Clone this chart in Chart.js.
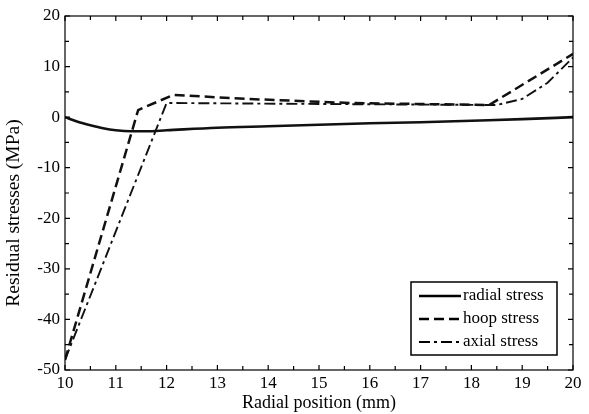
<!DOCTYPE html>
<html>
<head>
<meta charset="utf-8">
<script src="https://cdn.jsdelivr.net/npm/chart.js@4.4.1/dist/chart.umd.min.js"></script>
<style>
  html, body { margin: 0; padding: 0; background: #fff; }
  #wrap { width: 589px; height: 414px; }
</style>
</head>
<body>
<div id="wrap"><canvas id="stressChart" width="589" height="414"></canvas></div>
<script>
// radial position (mm) and stresses (MPa)
const radialX = [10, 10.25, 10.5, 10.75, 11, 11.3, 11.6, 12, 13, 14, 15, 16, 17, 18, 19, 20];
const radialY = [0, -0.9, -1.6, -2.2, -2.6, -2.8, -2.8, -2.6, -2.1, -1.8, -1.5, -1.2, -1.0, -0.7, -0.4, 0];

const hoopX = [10, 11.44, 12.13, 13.6, 15.6, 18.35, 20];
const hoopY = [-48, 1.4, 4.4, 3.6, 2.8, 2.4, 12.5];

const axialX = [10, 12.0, 15.0, 18.5, 19.0, 19.5, 20];
const axialY = [-48, 2.8, 2.6, 2.4, 3.6, 6.8, 11.8];

const xTicks = [10, 11, 12, 13, 14, 15, 16, 17, 18, 19, 20];
const yTicks = [-50, -40, -30, -20, -10, 0, 10, 20];

const yTitle = 'Residual stresses (MPa)';
const FONT = 'Liberation Serif';
const toPts = (xs, ys) => xs.map((x, i) => ({ x: x, y: ys[i] }));

// inward ticks on all four sides plus the frame
const frameTicks = {
    id: 'frameTicks',
    afterDraw(chart) {
        const { ctx, chartArea: a, scales } = chart;
        ctx.save();
        ctx.strokeStyle = '#000';
        ctx.lineWidth = 1.2;
        ctx.strokeRect(a.left, a.top, a.right - a.left, a.bottom - a.top);
        ctx.beginPath();
        for (let v = 10; v <= 20.001; v += 0.5) {
            const px = scales.x.getPixelForValue(v);
            const len = Number.isInteger(v) ? 5 : 4;
            ctx.moveTo(px, a.bottom); ctx.lineTo(px, a.bottom - len);
            ctx.moveTo(px, a.top); ctx.lineTo(px, a.top + len);
        }
        for (let v = -50; v <= 20; v += 5) {
            const py = scales.y.getPixelForValue(v);
            const len = v % 10 === 0 ? 5 : 4;
            ctx.moveTo(a.left, py); ctx.lineTo(a.left + len, py);
            ctx.moveTo(a.right, py); ctx.lineTo(a.right - len, py);
        }
        ctx.stroke();

        // y axis title, sits a little below the axis centre in the original
        ctx.translate(14, 213);
        ctx.rotate(-Math.PI / 2);
        ctx.font = '19.5px "' + FONT + '"';
        ctx.fillStyle = '#000';
        ctx.textAlign = 'center';
        ctx.textBaseline = 'middle';
        ctx.fillText(yTitle, 0, 0);
        ctx.restore();
    }
};

// boxed legend in the lower right of the plot
const boxLegend = {
    id: 'boxLegend',
    afterDraw(chart) {
        const { ctx } = chart;
        const left = 411, top = 282, w = 146, h = 73;
        ctx.save();
        ctx.fillStyle = '#fff';
        ctx.fillRect(left, top, w, h);
        ctx.strokeStyle = '#000';
        ctx.lineWidth = 1.5;
        ctx.strokeRect(left, top, w, h);
        ctx.font = '17px "' + FONT + '"';
        ctx.textBaseline = 'middle';
        chart.data.datasets.forEach((ds, i) => {
            const y = top + 14 + i * 23;
            ctx.beginPath();
            ctx.setLineDash(ds.borderDash || []);
            ctx.lineWidth = ds.borderWidth;
            ctx.moveTo(left + 8, y);
            ctx.lineTo(left + 50, y);
            ctx.stroke();
            ctx.setLineDash([]);
            ctx.fillStyle = '#000';
            ctx.fillText(ds.label, left + 52, y);
        });
        ctx.restore();
    }
};

const ctx = document.getElementById('stressChart').getContext('2d');
new Chart(ctx, {
    type: 'line',
    data: {
        datasets: [{
            label: 'radial stress',
            data: toPts(radialX, radialY),
            borderColor: '#111',
            borderWidth: 2.6,
            pointRadius: 0,
            cubicInterpolationMode: 'monotone'
        }, {
            label: 'hoop stress',
            data: toPts(hoopX, hoopY),
            borderColor: '#111',
            borderWidth: 2.5,
            borderDash: [10, 5],
            pointRadius: 0,
            tension: 0
        }, {
            label: 'axial stress',
            data: toPts(axialX, axialY),
            borderColor: '#111',
            borderWidth: 1.9,
            borderDash: [11, 4, 3, 4],
            pointRadius: 0,
            tension: 0
        }]
    },
    options: {
        responsive: false,
        animation: false,
        layout: { padding: { left: 0, right: 16, top: 16, bottom: 0 } },
        scales: {
            x: {
                type: 'linear',
                min: 10, max: 20,
                afterFit: s => { s.height = 44; },
                afterBuildTicks: s => { s.ticks = xTicks.map(v => ({ value: v })); },
                grid: { display: false, drawTicks: false },
                border: { display: false },
                ticks: { color: '#000', padding: 3, font: { family: FONT, size: 17 } },
                title: { display: true, text: 'Radial position (mm)', color: '#000', padding: { top: 3, bottom: 0 }, font: { family: FONT, size: 18 } }
            },
            y: {
                type: 'linear',
                min: -50, max: 20,
                afterFit: s => { s.width = 65; },
                afterBuildTicks: s => { s.ticks = yTicks.map(v => ({ value: v })); },
                grid: { display: false, drawTicks: false },
                border: { display: false },
                ticks: { color: '#000', padding: 5, font: { family: FONT, size: 17 } },
                title: { display: false }
            }
        },
        plugins: {
            legend: { display: false },
            tooltip: { enabled: false }
        }
    },
    plugins: [frameTicks, boxLegend]
});
</script>
</body>
</html>
